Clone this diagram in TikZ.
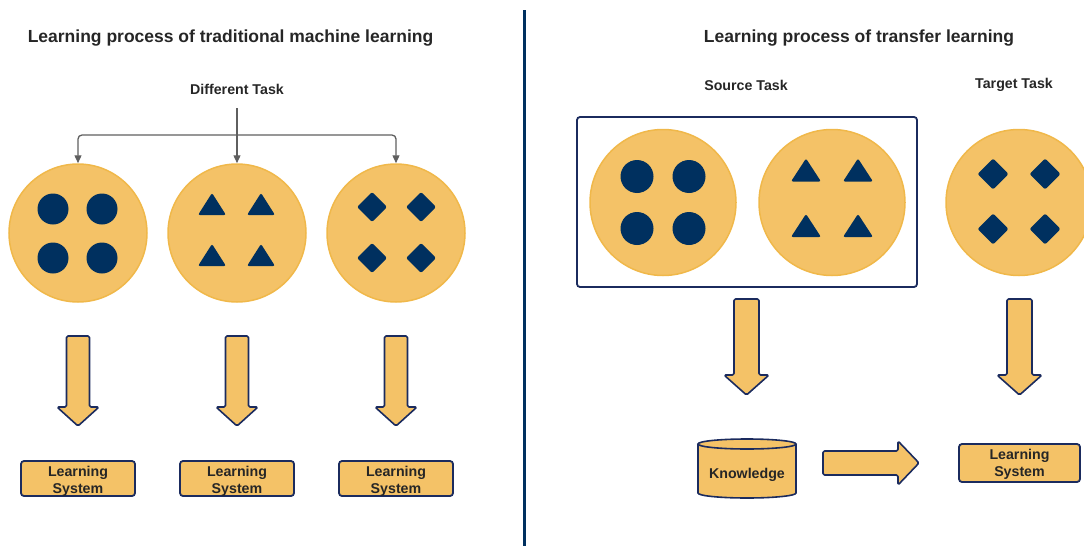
\documentclass[tikz,border=0pt]{standalone}
\usepackage{fontspec}
\setmainfont{Liberation Sans}
\usetikzlibrary{arrows.meta,calc}
\definecolor{circfill}{HTML}{F4C267}
\definecolor{circline}{HTML}{F0B84A}
\definecolor{navy}{HTML}{00305F}
\definecolor{navyline}{HTML}{1B2B5E}
\definecolor{txt}{HTML}{262626}
\definecolor{conncol}{HTML}{5F5F5F}
\tikzset{
  titletext/.style={font=\fontsize{17.5}{21}\selectfont\bfseries, text=txt, inner sep=0pt},
  labeltext/.style={font=\fontsize{14.2}{17}\selectfont\bfseries, text=txt, inner sep=0pt},
  bigcirc/.style={circle, fill=circfill, draw=circline, line width=1.5pt, inner sep=0pt},
  lsbox/.style={rectangle, rounded corners=3pt, fill=circfill, draw=navyline, line width=1.8pt, inner sep=0pt},
  lstext/.style={align=center, font=\fontsize{14.2}{16.8}\selectfont\bfseries, text=txt, inner sep=0pt},
  blockarrow/.style={fill=circfill, draw=navyline, line width=1.6pt, rounded corners=1.5pt, line join=round},
  conn/.style={draw=conncol, line width=1.3pt, rounded corners=4pt},
  conntip/.style={-{Triangle[length=8pt,width=7pt]}},
  dot/.style={fill=navy},
  tri/.style={fill=navy, rounded corners=2pt},
}
\begin{document}
\begin{tikzpicture}[x=1pt,y=-1pt]
\useasboundingbox (0,0) rectangle (1084,546);

% divider
\draw[navy, line width=3pt] (524,10) -- (524,546);

% ---------- Left half ----------
\node[titletext] (t1) at (230.5,38) {Learning process of traditional machine learning};
\node[labeltext] (dt) at (237,89) {Different Task};

\node[bigcirc, minimum size=138pt] (c1) at (78,233) {};
\node[bigcirc, minimum size=138pt] (c2) at (237,233) {};
\node[bigcirc, minimum size=138pt] (c3) at (396,233) {};

% connectors
\coordinate (dtfoot) at (237,108);
\coordinate (split) at (237,135);
\draw[conn] (dtfoot) -- (split);
\draw[conn, conntip] (split) -| (c1.north);
\draw[conn, conntip] (split) -- (c2.north);
\draw[conn, conntip] (split) -| (c3.north);

% circle 1 dots
\foreach \dx in {-25,24} \foreach \dy in {-24,25}
  \fill[dot] ($(c1)+(\dx,\dy)$) circle[radius=15.5pt];
% circle 2 triangles
\foreach \dx in {-25,24} \foreach \dy in {-18,33}
  \fill[tri] ($(c2)+(\dx,\dy)$) -- ++(-14,0) -- ++(14,-22) -- ++(14,22) -- cycle;
% circle 3 diamonds
\foreach \dx in {-24,25} \foreach \dy in {-26,25}
  \fill[tri] ($(c3)+(\dx,\dy)$) ++(0,-15) -- ++(15,15) -- ++(-15,15) -- ++(-15,-15) -- cycle;

% block arrows left
\foreach \cx in {78,237,396}
  \draw[blockarrow] (\cx-11.5,336) -- (\cx+11.5,336) -- (\cx+11.5,407) -- (\cx+21,407)
     -- (\cx,426) -- (\cx-21,407) -- (\cx-11.5,407) -- cycle;

\node[lsbox, minimum width=114pt, minimum height=35pt] (ls1) at (78,478.5) {};
\node[lsbox, minimum width=114pt, minimum height=35pt] (ls2) at (237,478.5) {};
\node[lsbox, minimum width=114pt, minimum height=35pt] (ls3) at (396,478.5) {};
\node[lstext] (ls1t) at ([yshift=-2.5pt]ls1.center) {Learning\\System};
\node[lstext] (ls2t) at ([yshift=-2.5pt]ls2.center) {Learning\\System};
\node[lstext] (ls3t) at ([yshift=-2.5pt]ls3.center) {Learning\\System};

% ---------- Right half ----------
\node[titletext] (t2) at (859,38) {Learning process of transfer learning};
\node[labeltext] (st) at (746,85) {Source Task};
\node[labeltext] (tt) at (1014,85) {Target Task};

\node[rectangle, rounded corners=3pt, draw=navyline, line width=1.8pt,
  minimum width=340pt, minimum height=170pt] (srcbox) at (747,202) {};

\node[bigcirc, minimum size=146pt] (r1) at (663,202.5) {};
\node[bigcirc, minimum size=146pt] (r2) at (832,202.5) {};
\node[bigcirc, minimum size=146pt] (r3) at (1019,202.5) {};

\foreach \dx in {-26,26} \foreach \dy in {-26,26}
  \fill[dot] ($(r1)+(\dx,\dy)$) circle[radius=16.5pt];
\foreach \dx in {-26,26} \foreach \dy in {-21,34.5}
  \fill[tri] ($(r2)+(\dx,\dy)$) -- ++(-15,0) -- ++(15,-23) -- ++(15,23) -- cycle;
\foreach \dx in {-26,26} \foreach \dy in {-28.5,26.5}
  \fill[tri] ($(r3)+(\dx,\dy)$) ++(0,-15.5) -- ++(15.5,15.5) -- ++(-15.5,15.5) -- ++(-15.5,-15.5) -- cycle;

% block arrows right
\foreach \cx in {746.5,1019.5}
  \draw[blockarrow] (\cx-12.5,299) -- (\cx+12.5,299) -- (\cx+12.5,375) -- (\cx+22.5,375)
     -- (\cx,395) -- (\cx-22.5,375) -- (\cx-12.5,375) -- cycle;

% knowledge cylinder
\draw[navyline, line width=1.6pt, fill=circfill] (698,444) -- (698,493) arc[start angle=180, end angle=360, x radius=49pt, y radius=5pt] -- (796,444);
\draw[navyline, line width=1.6pt, fill=circfill] (747,444) ellipse[x radius=49pt, y radius=5pt];
\node[labeltext] (kn) at (747,475) {Knowledge};

% horizontal block arrow
\draw[blockarrow] (823,451) -- (898,451) -- (898,441) -- (919,463) -- (898,485) -- (898,475) -- (823,475) -- cycle;

\node[lsbox, minimum width=121pt, minimum height=38pt] (ls4) at (1019.5,463) {};
\node[lstext] (ls4t) at ([yshift=-1.5pt]ls4.center) {Learning\\System};
\end{tikzpicture}
\end{document}
